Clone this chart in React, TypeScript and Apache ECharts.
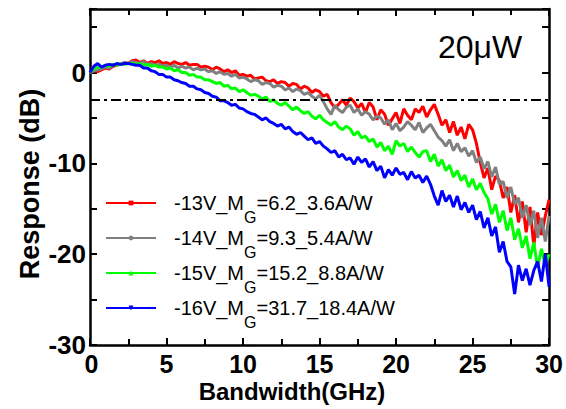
import React, { useEffect, useRef } from "react";
import * as echarts from "echarts";

const STEP_GHZ = 0.25;

const red13V = [
  0.0, 0.2, 0.1, 0.3, 0.5, 0.4, 0.7, 0.8, 0.9, 1.1, 1.0, 1.3, 1.4, 1.1, 1.3, 1.0,
  1.2, 1.1, 1.3, 1.0, 1.1, 0.9, 1.2, 1.0, 0.9, 1.1, 0.8, 0.9, 0.9, 0.6, 0.7, 0.6,
  0.3, 0.6, 0.4, 0.1, 0.3, 0.0, 0.2, -0.3, -0.2, -0.4, -0.3, -0.7, -0.6, -0.5, -0.9, -1.0,
  -0.8, -1.2, -1.0, -1.1, -1.5, -1.2, -1.3, -1.8, -1.5, -1.7, -2.2, -1.9, -2.1, -2.6, -2.4, -3.3,
  -3.9, -3.5, -3.0, -3.6, -2.8, -3.2, -3.9, -3.4, -4.4, -3.3, -3.8, -5.2, -4.1, -4.6, -5.8, -5.1,
  -4.4, -5.6, -4.0, -4.7, -5.2, -4.0, -4.4, -3.7, -4.9, -4.1, -3.5, -4.6, -5.8, -5.2, -6.6, -5.4,
  -6.9, -6.0, -7.3, -5.7, -6.3, -7.8, -9.9, -11.6, -10.5, -12.9, -11.4, -11.9, -13.8, -12.6, -15.4, -13.5,
  -16.5, -14.2, -17.6, -14.8, -19.1, -15.4, -17.9, -15.8, -14.0,
];

const gray14V = [
  0.0, 0.2, 0.3, 0.4, 0.6, 0.5, 0.8, 0.9, 0.9, 1.1, 1.0, 1.2, 1.1, 1.0, 1.2, 0.9,
  1.0, 0.8, 0.9, 0.7, 0.8, 0.6, 0.8, 0.5, 0.7, 0.5, 0.6, 0.3, 0.5, 0.3, 0.4, 0.1,
  0.2, -0.1, 0.1, -0.2, -0.1, -0.4, -0.2, -0.6, -0.5, -0.7, -1.0, -0.8, -0.9, -1.3, -1.1, -1.2,
  -1.6, -1.4, -1.5, -1.9, -1.7, -2.1, -1.8, -2.0, -2.4, -2.2, -2.6, -2.9, -2.5, -3.2, -4.0, -4.6,
  -3.6, -4.1, -4.4, -3.8, -3.6, -4.4, -4.0, -4.7, -4.3, -4.6, -5.2, -4.8, -5.0, -5.7, -5.2, -6.3,
  -5.6, -6.4, -6.0, -5.4, -5.8, -6.3, -5.5, -6.6, -6.1, -5.7, -6.4, -7.1, -7.5, -8.1, -7.4, -8.6,
  -7.8, -8.7, -8.3, -9.2, -8.6, -9.9, -9.3, -10.6, -9.8, -11.5, -10.4, -12.3, -12.0, -13.8, -12.6, -14.5,
  -13.8, -16.0, -14.6, -16.8, -15.2, -18.2, -16.0, -18.6, -15.8,
];

const green15V = [
  0.0, 0.4, 0.6, 0.6, 0.8, 0.7, 0.9, 0.8, 1.0, 0.9, 1.0, 1.0, 0.9, 1.0, 0.8, 0.9,
  0.7, 0.8, 0.6, 0.6, 0.4, 0.5, 0.2, 0.3, 0.0, 0.0, -0.3, -0.2, -0.5, -0.5, -0.8, -0.8,
  -1.0, -1.2, -1.1, -1.5, -1.4, -1.8, -1.7, -2.1, -1.9, -2.2, -2.5, -2.4, -2.6, -2.9, -2.7, -3.2,
  -3.0, -3.4, -3.6, -3.3, -3.7, -4.1, -3.8, -4.2, -4.5, -4.3, -4.8, -5.1, -4.7, -5.2, -5.5, -5.8,
  -5.4, -6.0, -6.3, -5.9, -6.2, -6.9, -6.5, -7.2, -7.0, -7.6, -7.3, -8.2, -7.7, -8.6, -8.1, -9.0,
  -7.5, -8.1, -7.8, -8.7, -8.2, -8.8, -9.3, -8.7, -8.6, -9.8, -9.0, -10.3, -9.6, -10.8, -10.2, -11.5,
  -10.8, -11.9, -11.3, -12.6, -11.7, -12.9, -12.2, -13.2, -13.9, -15.6, -14.5, -16.5, -15.2, -17.4, -16.0, -18.4,
  -17.2, -19.3, -18.0, -20.5, -18.7, -21.5, -19.4, -21.2, -20.0,
];

const blue16V = [
  0.0, 0.7, 1.0, 0.6, 0.8, 0.9, 0.8, 1.0, 0.9, 1.0, 1.0, 0.9, 0.8, 0.8, 0.5, 0.5,
  0.2, 0.1, -0.2, -0.2, -0.5, -0.5, -0.8, -0.9, -1.1, -1.2, -1.5, -1.5, -1.8, -1.9, -2.2, -2.3,
  -2.6, -2.7, -3.1, -3.1, -3.3, -3.6, -3.5, -3.9, -4.0, -4.3, -4.5, -4.6, -4.9, -5.2, -5.0, -5.4,
  -5.6, -5.9, -5.7, -6.2, -6.0, -6.5, -6.8, -6.6, -7.0, -7.4, -7.2, -7.8, -7.6, -8.1, -8.4, -8.8,
  -8.6, -9.3, -9.0, -9.6, -9.4, -10.1, -9.3, -9.9, -9.5, -10.4, -9.8, -10.8, -10.3, -11.6, -10.7, -11.3,
  -10.5, -11.2, -11.0, -11.8, -10.9, -11.6, -11.3, -12.1, -11.4, -12.3, -13.6, -14.6, -13.0, -14.2, -13.5, -14.8,
  -13.6, -15.1, -14.3, -15.4, -14.6, -16.2, -15.3, -17.1, -16.0, -18.0, -17.0, -19.8, -18.6, -20.8, -21.4, -24.4,
  -21.2, -22.9, -21.6, -23.4, -21.8, -20.8, -23.0, -20.0, -23.6,
];

const seriesNames = ["-13V", "-14V", "-15V", "-16V"];
const legendLabels = [
  ["-13V_M", "G", "=6.2_3.6A/W"],
  ["-14V_M", "G", "=9.3_5.4A/W"],
  ["-15V_M", "G", "=15.2_8.8A/W"],
  ["-16V_M", "G", "=31.7_18.4A/W"],
];
const seriesColors = ["#ff0000", "#808080", "#00ff00", "#0000ff"];
const seriesSymbols = ["rect", "circle", "triangle", "path://M0,0 L10,0 L5,10 Z"];
const seriesValues = [red13V, gray14V, green15V, blue16V];

const threedB = -3;
const powerLabel = "20\u03bcW";
const xTitle = "Bandwidth(GHz)";
const yTitle = "Response (dB)";

const FONT = "'Liberation Sans', Arial, Helvetica, sans-serif";

export default function App() {
  const ref = useRef<HTMLDivElement>(null);

  useEffect(() => {
    if (!ref.current) return;
    const chart = echarts.init(ref.current, null, { renderer: "svg" });

    const series: any[] = seriesValues.map((vals, i) => ({
      name: seriesNames[i],
      type: "line",
      data: vals.map((v, k) => [k * STEP_GHZ, v]),
      showSymbol: false,
      symbol: seriesSymbols[i],
      symbolSize: 5,
      lineStyle: { color: seriesColors[i], width: 3 },
      itemStyle: { color: seriesColors[i] },
      color: seriesColors[i],
      z: 2 + i,
      ...(i === 0
        ? {
            markLine: {
              silent: true,
              symbol: "none",
              label: { show: false },
              lineStyle: { color: "#000", width: 2, type: [10, 4, 3, 4] },
              data: [{ yAxis: threedB }],
              z: 10,
            },
          }
        : {}),
    }));

    const axisLineStyle = { onZero: false, lineStyle: { color: "#000", width: 2.5 } };
    const tick = { inside: true, length: 7, lineStyle: { color: "#000", width: 2 } };
    const minor = { show: true, splitNumber: 2, length: 6, lineStyle: { color: "#000", width: 2 } };

    chart.setOption({
      animation: false,
      backgroundColor: "#fff",
      grid: { left: 90, right: 14, top: 9, bottom: 64 },
      legend: {
        orient: "vertical",
        left: 100,
        top: 186,
        itemWidth: 50,
        itemHeight: 6,
        itemGap: 1,
        data: seriesNames,
        formatter: (name: string) => {
          const idx = seriesNames.indexOf(name);
          const l = legendLabels[idx];
          return `{f|${l[0]}}{s|${l[1]}}{a|${l[2]}}`;
        },
        textStyle: {
          fontFamily: FONT,
          fontSize: 20,
          color: "#000",
          rich: {
            f: { fontFamily: FONT, fontSize: 20, lineHeight: 24, padding: [0, 0, 0, 13], color: "#000" },
            a: { fontFamily: FONT, fontSize: 20, lineHeight: 24, color: "#000" },
            s: {
              fontFamily: FONT,
              fontSize: 16,
              lineHeight: 16,
              verticalAlign: "top",
              padding: [18, 0, 0, 0],
              color: "#000",
            },
          },
        },
      },
      xAxis: [
        {
          type: "value",
          min: 0,
          max: 30,
          interval: 5,
          position: "bottom",
          axisLine: axisLineStyle,
          axisTick: tick,
          minorTick: minor,
          splitLine: { show: false },
          axisLabel: {
            fontFamily: FONT,
            fontSize: 25,
            fontWeight: "bold",
            color: "#000",
            margin: 6,
            formatter: (v: number) => (v === 0 ? "{z|0}" : String(v)),
            rich: {
              z: { fontFamily: FONT, fontSize: 25, fontWeight: "bold", color: "#000", padding: [0, 0, 0, 3] },
            },
          },
        },
        {
          type: "value",
          min: 0,
          max: 30,
          interval: 5,
          position: "top",
          axisLine: axisLineStyle,
          axisTick: tick,
          minorTick: minor,
          splitLine: { show: false },
          axisLabel: { show: false },
        },
      ],
      yAxis: [
        {
          type: "value",
          min: -30,
          max: 7,
          interval: 5,
          position: "left",
          axisLine: axisLineStyle,
          axisTick: tick,
          splitLine: { show: false },
          axisLabel: {
            fontFamily: FONT,
            fontSize: 26,
            fontWeight: "bold",
            color: "#000",
            margin: 4,
            formatter: (v: number) => (v % 10 === 0 ? String(v) : ""),
          },
        },
        {
          type: "value",
          min: -30,
          max: 7,
          interval: 5,
          position: "right",
          axisLine: axisLineStyle,
          axisTick: tick,
          splitLine: { show: false },
          axisLabel: { show: false },
        },
      ],
      graphic: [
        {
          type: "text",
          left: 438,
          top: 31,
          style: { text: powerLabel, fontFamily: FONT, fontSize: 32, fill: "#000" },
        },
        {
          type: "text",
          x: 292,
          y: 391,
          style: {
            text: xTitle,
            fontFamily: FONT,
            fontSize: 24,
            fontWeight: "bold",
            fill: "#000",
            align: "center",
            verticalAlign: "middle",
          },
        },
        {
          type: "text",
          x: 30,
          y: 184,
          rotation: Math.PI / 2,
          style: {
            text: yTitle,
            fontFamily: FONT,
            fontSize: 27,
            fontWeight: "bold",
            fill: "#000",
            align: "center",
            verticalAlign: "middle",
          },
        },
      ],
      series,
    });

    return () => chart.dispose();
  }, []);

  return (
    <div
      ref={ref}
      style={{ position: "fixed", left: 0, top: 0, width: 566, height: 409, background: "#fff" }}
    />
  );
}
